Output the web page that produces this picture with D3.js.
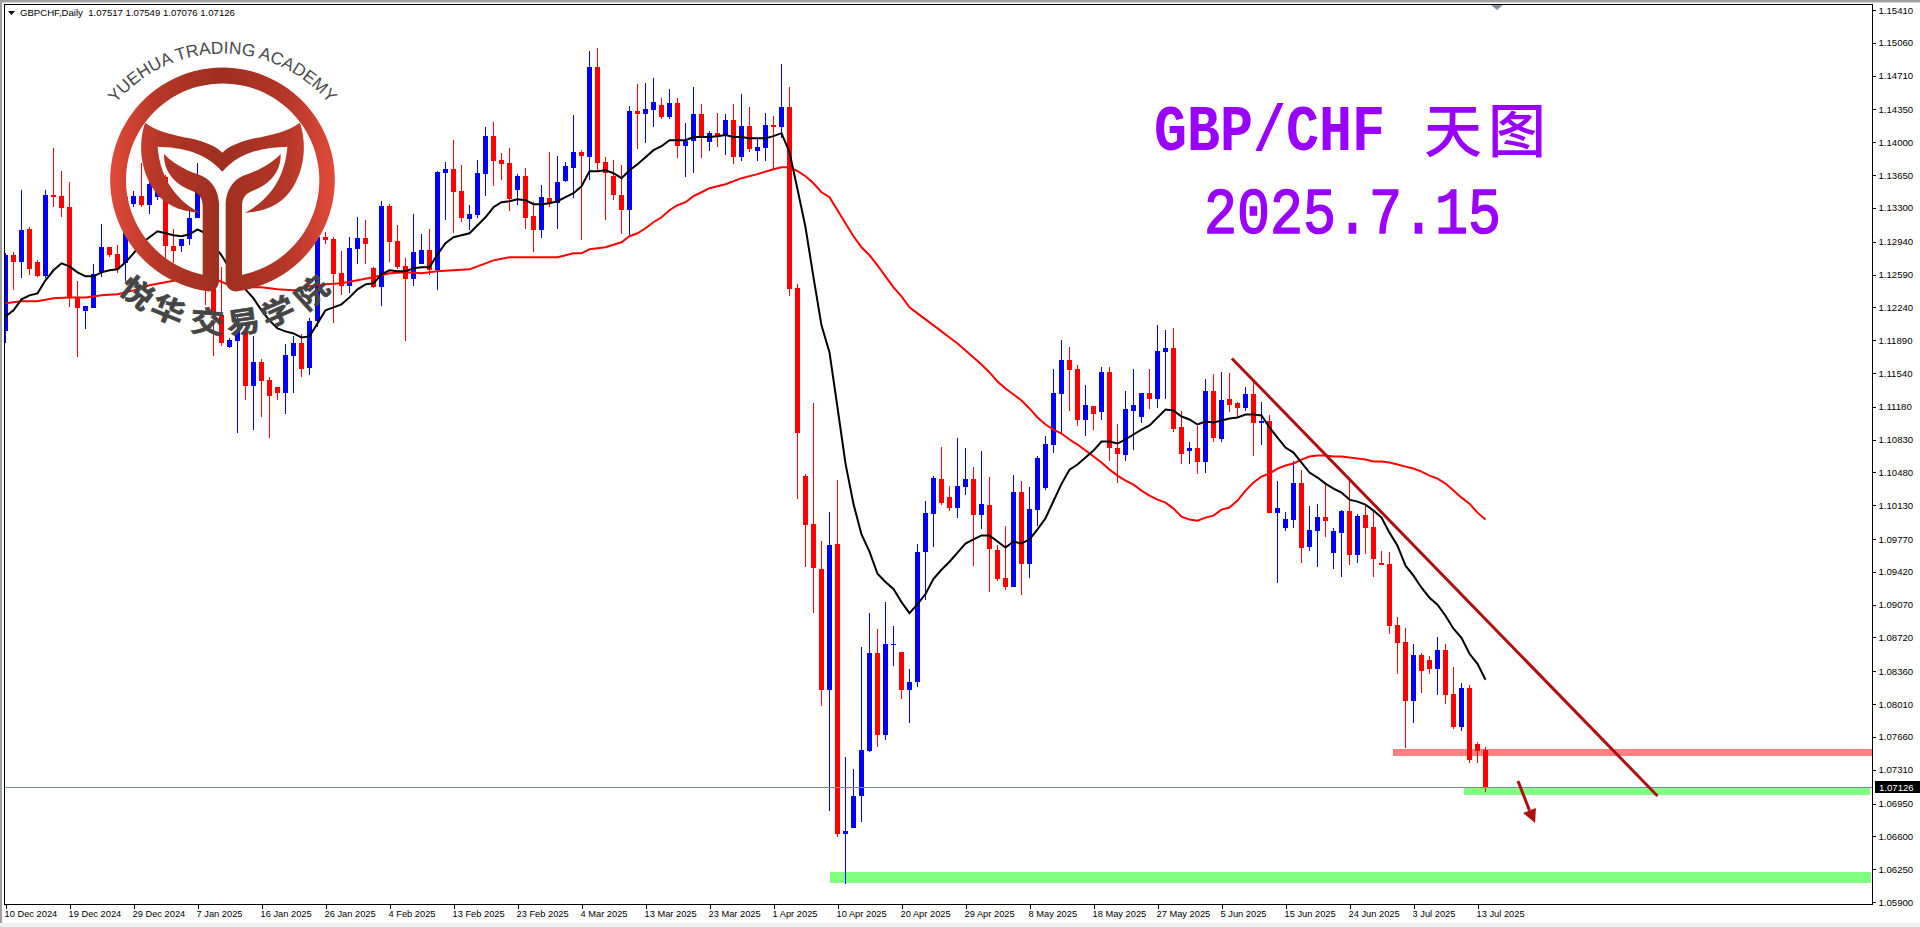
<!DOCTYPE html>
<html><head><meta charset="utf-8">
<style>html,body{margin:0;padding:0;background:#fff;overflow:hidden}svg{display:block}</style>
<script src="https://cdn.jsdelivr.net/npm/d3@7/dist/d3.min.js"></script></head><body>
<svg id="c" width="1920" height="927"></svg>
<script>
const symbolLabel = "GBPCHF,Daily  1.07517 1.07549 1.07076 1.07126";
const dateLabels = ["10 Dec 2024","19 Dec 2024","29 Dec 2024","7 Jan 2025","16 Jan 2025","26 Jan 2025","4 Feb 2025","13 Feb 2025","23 Feb 2025","4 Mar 2025","13 Mar 2025","23 Mar 2025","1 Apr 2025","10 Apr 2025","20 Apr 2025","29 Apr 2025","8 May 2025","18 May 2025","27 May 2025","5 Jun 2025","15 Jun 2025","24 Jun 2025","3 Jul 2025","13 Jul 2025"];
const priceTicks = [1.15410,1.15060,1.14710,1.14350,1.14000,1.13650,1.13300,1.12940,1.12590,1.12240,1.11890,1.11540,1.11180,1.10830,1.10480,1.10130,1.09770,1.09420,1.09070,1.08720,1.08360,1.08010,1.07660,1.07310,1.06950,1.06600,1.06250,1.05900];
const lastPrice = 1.07126;
const opens = [1.11984,1.12795,1.12720,1.13072,1.12720,1.12571,1.13435,1.13425,1.13307,1.12336,1.12197,1.12229,1.12613,1.12880,1.12805,1.12709,1.13339,1.13425,1.13329,1.13414,1.13627,1.12891,1.12891,1.12966,1.13190,1.13168,1.12635,1.12154,1.11813,1.11877,1.11973,1.11396,1.11653,1.11460,1.11386,1.11322,1.11717,1.11855,1.11589,1.12090,1.12987,1.12966,1.12603,1.12464,1.12859,1.12976,1.12656,1.12453,1.13318,1.12944,1.12677,1.12539,1.12699,1.12848,1.12635,1.13670,1.13713,1.13478,1.13179,1.13222,
1.13660,1.14065,1.13809,1.13777,1.13489,1.13638,1.13211,1.13062,1.13403,1.13350,1.13585,1.13724,1.13894,1.13841,1.14802,1.13788,1.13638,1.13435,1.13275,1.14332,1.14300,1.14343,1.14396,1.14268,1.14417,1.13958,1.14012,1.14300,1.14001,1.14097,1.14065,1.14236,1.13841,1.14172,1.13905,1.13937,1.14183,1.14161,1.14375,1.12443,
1.10444,1.09927,1.09453,1.08160,1.09722,1.06630,1.06685,1.07029,1.07514,1.08559,1.07676,1.08645,1.08570,1.08160,1.08247,1.09636,1.10035,1.10411,1.10217,1.10099,1.10325,1.10411,1.10024,1.10132,1.09657,1.09356,1.09261,1.10276,1.09507,1.10083,1.10318,1.10777,1.11311,1.11674,1.11578,1.11044,1.11183,1.11119,1.11546,1.10745,
1.10670,1.11140,1.11066,1.11322,1.11258,1.11759,1.11802,1.10959,1.10713,1.10735,1.10596,1.11343,1.10841,1.11258,1.11215,1.11172,1.11311,1.11012,1.11033,1.10051,1.09891,1.09977,1.10372,1.09688,1.09859,1.10009,1.09624,1.09838,1.10073,1.09603,1.10030,1.09902,1.09518,1.09507,1.08856,1.08674,1.08045,1.08535,1.08482,1.08386,1.08589,1.08119,1.07767,1.08183,1.07585,1.07517];
const closes = [1.12795,1.12720,1.13062,1.12645,1.12571,1.13435,1.13414,1.13297,1.12336,1.12229,1.12250,1.12592,1.12880,1.12795,1.12645,1.13414,1.13425,1.13329,1.13553,1.13595,1.12891,1.12838,1.12966,1.13190,1.13467,1.12453,1.12154,1.11855,1.11887,1.11994,1.11396,1.11653,1.11450,1.11300,1.11322,1.11727,1.11855,1.11578,1.12090,1.12987,1.12955,1.12592,1.12464,1.12870,1.12976,1.12912,1.12453,1.13318,1.12934,1.12667,1.12539,1.12827,1.12848,1.12635,1.13681,1.13713,1.13467,1.13190,1.13232,1.13670,
1.14065,1.13798,1.13766,1.13393,1.13638,1.13190,1.13062,1.13414,1.13350,1.13574,1.13745,1.13894,1.13852,1.14802,1.13777,1.13670,1.13435,1.13275,1.14332,1.14300,1.14353,1.14428,1.14268,1.14417,1.13958,1.14012,1.14300,1.14044,1.14097,1.14065,1.14236,1.13841,1.14172,1.13926,1.13948,1.14183,1.14161,1.14375,1.12432,1.10895,
1.09916,1.09464,1.08160,1.09711,1.06630,1.06653,1.07029,1.07524,1.08559,1.07676,1.08655,1.08655,1.08160,1.08247,1.09636,1.10045,1.10422,1.10153,1.10099,1.10336,1.10411,1.10024,1.10142,1.09668,1.09346,1.09259,1.10276,1.09507,1.10094,1.10639,1.10788,1.11322,1.11674,1.11567,1.11044,1.11204,1.11108,1.11546,1.10735,1.10681,
1.11151,1.11194,1.11322,1.11258,1.11770,1.11802,1.10948,1.10681,1.10735,1.10596,1.11343,1.10852,1.11247,1.11204,1.11172,1.11311,1.11012,1.11033,1.10051,1.10105,1.09987,1.10372,1.09678,1.09870,1.10009,1.09966,1.09859,1.10073,1.09603,1.10019,1.09891,1.09560,1.09496,1.08845,1.08664,1.08045,1.08535,1.08365,1.08386,1.08589,1.08109,1.07767,1.08183,1.07415,1.07511,1.07126];
const highs = [1.12816,1.12827,1.13489,1.13094,1.12741,1.13489,1.13937,1.13692,1.13574,1.12517,1.12250,1.12699,1.13126,1.12880,1.12902,1.13489,1.13478,1.13777,1.13702,1.13627,1.13649,1.13072,1.12966,1.13275,1.13777,1.13243,1.12720,1.12667,1.11909,1.12144,1.11994,1.11930,1.11685,1.11492,1.11386,1.11845,1.11930,1.11951,1.12122,1.13030,1.13040,1.12987,1.12838,1.12987,1.13200,1.13168,1.12667,1.13371,1.13339,1.13115,1.12763,1.13232,1.13019,1.13072,1.13692,1.13788,1.14022,1.13756,1.13329,1.13809,
1.14161,1.14215,1.13884,1.13937,1.13660,1.13724,1.13361,1.13542,1.13894,1.13852,1.13788,1.14289,1.13916,1.14973,1.15005,1.13841,1.13809,1.13756,1.14385,1.14620,1.14631,1.14684,1.14471,1.14567,1.14471,1.14204,1.14588,1.14407,1.14119,1.14311,1.14300,1.14407,1.14514,1.14375,1.14044,1.14311,1.14279,1.14834,1.14588,1.12485,
1.10466,1.11219,1.09754,1.10056,1.10401,1.07450,1.07321,1.08623,1.08979,1.08807,1.09097,1.08839,1.08570,1.08386,1.09722,1.10175,1.10444,1.10756,1.10336,1.10852,1.10735,1.10540,1.10713,1.10433,1.09701,1.09906,1.10457,1.10393,1.10329,1.10660,1.10873,1.11578,1.11887,1.11813,1.11621,1.11407,1.11183,1.11599,1.11599,1.11001,
1.11343,1.11578,1.11332,1.11578,1.12048,1.11994,1.12016,1.11140,1.10809,1.10980,1.11471,1.11525,1.11546,1.11535,1.11226,1.11386,1.11450,1.11226,1.11087,1.10393,1.10062,1.10606,1.10510,1.10126,1.10147,1.10361,1.09891,1.10083,1.10393,1.10041,1.10137,1.10073,1.09646,1.09635,1.08941,1.08824,1.08653,1.08557,1.08525,1.08728,1.08653,1.08407,1.08237,1.08215,1.07607,1.07549];
const lows = [1.11855,1.12421,1.12549,1.12581,1.12560,1.12549,1.13307,1.13200,1.12240,1.11706,1.12005,1.12229,1.12560,1.12773,1.12603,1.12517,1.13307,1.13307,1.13232,1.13382,1.12763,1.12709,1.12827,1.12902,1.13190,1.12261,1.11717,1.11823,1.11802,1.10905,1.11247,1.10937,1.11066,1.10852,1.11247,1.11108,1.11322,1.11492,1.11514,1.12026,1.12912,1.12069,1.12368,1.12389,1.12699,1.12699,1.12443,1.12250,1.12720,1.12645,1.11877,1.12464,1.12699,1.12581,1.12421,1.13168,1.13030,1.13147,1.13062,1.13190,
1.13425,1.13531,1.13595,1.13265,1.13329,1.13072,1.12827,1.12976,1.13307,1.13072,1.13574,1.13403,1.12955,1.13595,1.13702,1.13168,1.13382,1.13019,1.12998,1.13926,1.13990,1.14161,1.14247,1.14247,1.13830,1.13627,1.13670,1.13830,1.13905,1.13948,1.13862,1.13766,1.13798,1.13894,1.13798,1.13798,1.13702,1.14044,1.12357,1.10201,
1.09475,1.08979,1.07988,1.06867,1.06588,1.06093,1.06685,1.06750,1.07503,1.07557,1.07632,1.08418,1.08063,1.07805,1.08192,1.09119,1.09690,1.10132,1.10067,1.09991,1.10240,1.09485,1.09873,1.09205,1.09323,1.09227,1.09261,1.09176,1.09358,1.09913,1.10297,1.10692,1.10895,1.11140,1.10980,1.10873,1.10937,1.11044,1.10606,1.10372,
1.10606,1.10724,1.11012,1.11151,1.11172,1.11258,1.10916,1.10575,1.10575,1.10468,1.10478,1.10799,1.10809,1.11119,1.11076,1.11140,1.10660,1.10777,1.10051,1.09304,1.09859,1.09891,1.09518,1.09646,1.09475,1.09795,1.09454,1.09368,1.09496,1.09518,1.09614,1.09368,1.09496,1.08760,1.08333,1.07543,1.07810,1.08130,1.08333,1.08109,1.08013,1.07746,1.07724,1.07383,1.07383,1.07076];
const blackMA = [1.12144,1.12208,1.12325,1.12368,1.12389,1.12528,1.12635,1.12709,1.12677,1.12613,1.12571,1.12571,1.12613,1.12635,1.12645,1.12720,1.12816,1.12923,1.12987,1.13051,1.13030,1.13008,1.12998,1.13019,1.13072,1.13030,1.12902,1.12795,1.12656,1.12528,1.12432,1.12336,1.12208,1.12101,1.12016,1.11984,1.11962,1.11919,1.11930,1.12069,1.12208,1.12240,1.12272,1.12346,1.12432,1.12485,1.12496,1.12592,1.12635,1.12624,1.12624,1.12656,1.12667,1.12667,1.12805,1.12923,1.12987,1.13008,1.13030,1.13115,
1.13200,1.13307,1.13361,1.13371,1.13393,1.13382,1.13339,1.13339,1.13350,1.13371,1.13414,1.13457,1.13531,1.13692,1.13692,1.13702,1.13670,1.13617,1.13702,1.13766,1.13841,1.13916,1.13958,1.14022,1.14022,1.14022,1.14055,1.14055,1.14055,1.14065,1.14076,1.14055,1.14055,1.14044,1.14044,1.14044,1.14065,1.14097,1.13894,1.13499,
1.13094,1.12560,1.12048,1.11759,1.11172,1.10574,1.10142,1.09819,1.09636,1.09399,1.09312,1.09238,1.09097,1.08979,1.09076,1.09183,1.09346,1.09442,1.09528,1.09625,1.09722,1.09765,1.09808,1.09808,1.09743,1.09679,1.09743,1.09722,1.09765,1.09873,1.09991,1.10175,1.10358,1.10508,1.10564,1.10639,1.10713,1.10809,1.10809,1.10788,
1.10831,1.10884,1.10937,1.10980,1.11066,1.11151,1.11140,1.11076,1.11044,1.10991,1.11023,1.11012,1.11033,1.11055,1.11066,1.11097,1.11097,1.11087,1.10959,1.10852,1.10745,1.10692,1.10585,1.10478,1.10425,1.10361,1.10308,1.10265,1.10190,1.10169,1.10137,1.10073,1.09998,1.09838,1.09699,1.09486,1.09379,1.09251,1.09144,1.09069,1.08952,1.08813,1.08717,1.08546,1.08439,1.08269];
const redMABars = [0,2,4,6,8,10,12,14,16,18,20,22,24,26,28,30,32,34,36,38,40,42,44,46,48,50,52,54,56,58,59,60,61,63,65,67,69,71,72,73,75,77,78,79,80,81,82,83,84,85,86,87,88,90,92,94,96,97,98,99,100,101,102,103,104,105,106,107,108,109,110,111,112,113,114,115,116,117,118,119,120,121,122,123,124,125,126,127,128,129,130,131,132,133,134,135,136,137,138,139,140,141,142,143,144,145,146,147,148,149,150,151,152,153,154,155,156,157,158,159,160,161,162,163,164,165,166,167,168,169,170,171,172,173,174,175,176,177,178,179,180,181,182,183,184,185];
const redMA = [1.12283,1.12304,1.12304,1.12336,1.12346,1.12346,1.12368,1.12379,1.12421,1.12475,1.12507,1.12539,1.12549,1.12549,1.12475,1.12453,1.12453,1.12432,1.12421,1.12464,1.12485,1.12496,1.12528,1.12560,1.12603,1.12613,1.12603,1.12624,1.12635,1.12645,1.12677,1.12709,1.12741,1.12773,1.12773,1.12773,1.12773,1.12816,1.12816,1.12859,1.12880,1.12934,1.12998,1.13030,1.13083,1.13147,1.13200,1.13275,1.13329,1.13361,1.13425,1.13467,1.13510,1.13553,1.13617,1.13660,1.13713,1.13734,1.13734,1.13692,1.13638,1.13563,1.13467,1.13414,1.13275,1.13136,1.12998,1.12880,1.12795,1.12688,1.12571,1.12453,1.12357,1.12240,1.12176,1.12112,1.12048,1.11984,1.11919,1.11855,1.11781,1.11706,1.11631,1.11546,1.11450,1.11375,1.11311,1.11247,1.11162,1.11066,1.10991,1.10937,1.10895,1.10831,1.10777,1.10713,1.10649,1.10585,1.10510,1.10446,1.10393,1.10350,1.10286,1.10233,1.10190,1.10158,1.10094,1.10009,1.09977,1.09966,1.09998,1.10019,1.10083,1.10105,1.10180,1.10286,1.10372,1.10436,1.10468,1.10521,1.10553,1.10575,1.10617,1.10649,1.10660,1.10660,1.10649,1.10649,1.10639,1.10628,1.10617,1.10596,1.10596,1.10585,1.10564,1.10542,1.10521,1.10489,1.10446,1.10414,1.10361,1.10286,1.10211,1.10147,1.10051,1.09977];
const zoneStart = [173.4,182.25,103.06];
const zoneEnd = [233.8,233.07,233.2];
const zoneHigh = [1.07536,1.07126,1.06220];
const zoneLow = [1.07457,1.07037,1.06103];
const zoneColors = ["#ff8080","#80ff80","#80ff80"];
const trendBars = [153.3,206.5];
const trendPrices = [1.11695,1.07030];
const arrowBars = [189.06,190.5];
const arrowPrices = [1.07190,1.06876];
const arrowHeadBars = [189.7,191.3,191.2];
const arrowHeadPrices = [1.06849,1.06902,1.06742];

const barCount = opens.length;
const svg = d3.select("#c");
const x = d3.scaleLinear().domain([0,barCount]).range([5.5,5.5+8*barCount]);
const y = d3.scaleLinear().domain([1.1541,1.059]).range([10,902]);
const UI = "'Liberation Sans',Arial,sans-serif";

// chrome
svg.append("rect").attr("width",1920).attr("height",927).attr("fill","#fff");
svg.append("rect").attr("width",1920).attr("height",2).attr("fill","#a0a0a0");
svg.append("rect").attr("y",2).attr("width",1920).attr("height",1).attr("fill","#d8d8d8");
svg.append("rect").attr("width",2).attr("height",923).attr("fill","#a0a0a0");
svg.append("rect").attr("y",923).attr("width",1920).attr("height",4).attr("fill","#f0f0f0");

const defs = svg.append("defs");
defs.append("clipPath").attr("id","plot").append("rect").attr("x",5).attr("y",5).attr("width",1867).attr("height",900);
const grad = defs.append("linearGradient").attr("id","logoG").attr("gradientUnits","userSpaceOnUse")
  .attr("x1",60).attr("x2",735).attr("y1",0).attr("y2",0);
[[0,"#e04a3a"],[.22,"#b53627"],[.5,"#9e2f20"],[.78,"#b53627"],[1,"#e04a3a"]].forEach(s=>grad.append("stop").attr("offset",s[0]).attr("stop-color",s[1]));

const plot = svg.append("g").attr("clip-path","url(#plot)");
// zones
plot.selectAll(".zone").data(zoneStart).join("rect").attr("shape-rendering","crispEdges")
  .attr("x",(d)=>x(d)).attr("width",(d,i)=>x(zoneEnd[i])-x(d))
  .attr("y",(d,i)=>y(zoneHigh[i])).attr("height",(d,i)=>y(zoneLow[i])-y(zoneHigh[i]))
  .attr("fill",(d,i)=>zoneColors[i]);

// candles
const color = i => closes[i] >= opens[i] ? "#0000ff" : "#ff0000";
const idx = d3.range(barCount);
plot.append("g").attr("shape-rendering","crispEdges").selectAll("rect").data(idx).join("rect")
  .attr("x",i=>x(i)-0.5).attr("width",1).attr("y",i=>y(highs[i])).attr("height",i=>y(lows[i])-y(highs[i])).attr("fill",color);
plot.append("g").attr("shape-rendering","crispEdges").selectAll("rect").data(idx).join("rect")
  .attr("x",i=>x(i)-2.5).attr("width",5).attr("y",i=>y(Math.max(opens[i],closes[i])))
  .attr("height",i=>Math.max(1.2,Math.abs(y(opens[i])-y(closes[i])))).attr("fill",color);

// moving averages
const lineGen = d3.line().x(d=>x(d[0])).y(d=>y(d[1]));
plot.append("path").attr("d",lineGen(redMA.map((v,i)=>[redMABars[i],v]))).attr("fill","none").attr("stroke","#ff0000").attr("stroke-width",2);
plot.append("path").attr("d",lineGen(blackMA.map((v,i)=>[i,v]))).attr("fill","none").attr("stroke","#000").attr("stroke-width",2);

// price line
svg.append("line").attr("x1",5).attr("x2",1872).attr("y1",Math.round(y(lastPrice))+.5).attr("y2",Math.round(y(lastPrice))+.5).attr("stroke","#778899").attr("stroke-width",1).attr("shape-rendering","crispEdges");

// logo
const logo = svg.append("g").attr("transform","translate(90,30) scale(0.33333)");
logo.append("path").attr("fill-rule","evenodd").attr("fill","url(#logoG)")
  .attr("d","M355,784 A337,337 0 1 1 440,784 Q410,784 408,750 L458,734 A290,290 0 1 0 338,734 L386,750 Q384,784 355,784 Z");
logo.append("path").attr("fill","url(#logoG)")
  .attr("d","M165,278 C200,305 250,315 300,325 C345,335 380,350 397,368 C414,350 449,335 494,325 C544,315 594,305 630,278 C650,340 645,410 610,470 C580,520 530,545 465,548 C530,515 585,450 592,350 C520,352 450,365 397,425 C344,365 274,352 203,350 C210,450 265,515 330,548 C265,545 215,520 185,470 C150,410 145,340 165,278 Z");
const stem = "M222,372 C260,410 300,425 335,437 C365,450 385,480 387,520 L387,750 C387,775 370,784 350,784 L338,734 L338,530 C338,500 325,490 300,480 C250,460 220,420 222,372 Z";
logo.append("path").attr("d",stem).attr("fill","url(#logoG)");
logo.append("path").attr("d",stem).attr("fill","url(#logoG)").attr("transform","translate(794,0) scale(-1,1)");
defs.append("path").attr("id","logoArc").attr("d","M36,279 A417,417 0 0 1 758,279");
logo.append("text").attr("font-family",UI).attr("font-size",52).attr("fill","#4a4a4a")
  .append("textPath").attr("href","#logoArc").attr("startOffset","50%").attr("text-anchor","middle").text("YUEHUA TRADING ACADEMY");
const cnChars = ["悦","华","交","易","学","院"];
const cnPos = [[137,293,38],[168,310,22],[207,322,5],[243,322,-8],[278,312,-24],[312,293,-42]];
svg.append("g").selectAll("text").data(cnChars).join("text")
  .attr("transform",(d,i)=>`translate(${cnPos[i][0]},${cnPos[i][1]}) rotate(${cnPos[i][2]}) scale(1.08,0.95)`)
  .attr("text-anchor","middle").attr("dy","0.36em")
  .attr("font-family","'Noto Sans CJK SC'").attr("font-weight",700).attr("font-size",31).attr("fill","#454545")
  .attr("stroke","#454545").attr("stroke-width",0.6).text(d=>d);

// trend line and arrow
svg.append("line").attr("x1",x(trendBars[0])).attr("y1",y(trendPrices[0])).attr("x2",x(trendBars[1])).attr("y2",y(trendPrices[1])).attr("stroke","#b00f0f").attr("stroke-width",3);
svg.append("line").attr("x1",x(arrowBars[0])).attr("y1",y(arrowPrices[0])).attr("x2",x(arrowBars[1])).attr("y2",y(arrowPrices[1])).attr("stroke","#b00f0f").attr("stroke-width",3);
svg.append("polygon").attr("points",arrowHeadBars.map((b,i)=>x(b)+","+y(arrowHeadPrices[i])).join(" ")).attr("fill","#b00f0f");

// title
const PURPLE="#9900ff";
const mono="'Liberation Mono',monospace";
svg.append("text").attr("transform","translate(1154,150) scale(1,1.18)").attr("font-family",mono).attr("font-weight",700).attr("font-size",55).attr("fill",PURPLE).text("GBP/CHF");
svg.append("text").attr("x",1453).attr("y",152).attr("text-anchor","middle").attr("font-family","'Noto Sans CJK SC'").attr("font-weight",500).attr("font-size",58).attr("fill",PURPLE).text("天");
svg.append("text").attr("x",1517).attr("y",152).attr("text-anchor","middle").attr("font-family","'Noto Sans CJK SC'").attr("font-weight",500).attr("font-size",58).attr("fill",PURPLE).text("图");
svg.append("text").attr("transform","translate(1204,233) scale(1,1.18)").attr("font-family",mono).attr("font-size",55).attr("fill",PURPLE).attr("stroke",PURPLE).attr("stroke-width",1.3).text("2025.7.15");

// frame
svg.append("rect").attr("x",4.5).attr("y",4.5).attr("width",1868).attr("height",900).attr("fill","none").attr("stroke","#000").attr("shape-rendering","crispEdges");
svg.append("polygon").attr("points","1491,5 1503,5 1497,10").attr("fill","#7f8fa0");

// axes
const yAxis = d3.axisRight(y).tickValues(priceTicks).tickFormat(d3.format(".5f")).tickSize(3).tickPadding(3);
const yg = svg.append("g").attr("transform","translate(1872.5,0)").attr("shape-rendering","crispEdges").call(yAxis);
yg.select(".domain").remove();
yg.selectAll("text").attr("font-family",UI).attr("font-size",9.6).attr("fill","#000").attr("shape-rendering","auto");
const xTicks = dateLabels.map((d,i)=>i*8);
const xAxis = d3.axisBottom(x).tickValues(xTicks).tickFormat((d,i)=>dateLabels[i]).tickSize(4).tickPadding(2);
const xg = svg.append("g").attr("transform","translate(0,904.5)").attr("shape-rendering","crispEdges").call(xAxis);
xg.select(".domain").remove();
xg.selectAll("text").attr("text-anchor","start").attr("x",-1.5).attr("font-family",UI).attr("font-size",9.3).attr("fill","#000");

// last price tag
svg.append("rect").attr("x",1875).attr("y",Math.round(y(lastPrice))-6).attr("width",45).attr("height",12).attr("fill","#000");
svg.append("text").attr("x",1879).attr("y",Math.round(y(lastPrice))+3.5).attr("font-family",UI).attr("font-size",9.6).attr("fill","#fff").text(d3.format(".5f")(lastPrice));

// header
svg.append("polygon").attr("points","8,11 15,11 11.5,15").attr("fill","#000");
svg.append("text").attr("x",20).attr("y",16).attr("font-family",UI).attr("font-size",9.6).attr("fill","#000").style("white-space","pre").text(symbolLabel);
</script></body></html>
